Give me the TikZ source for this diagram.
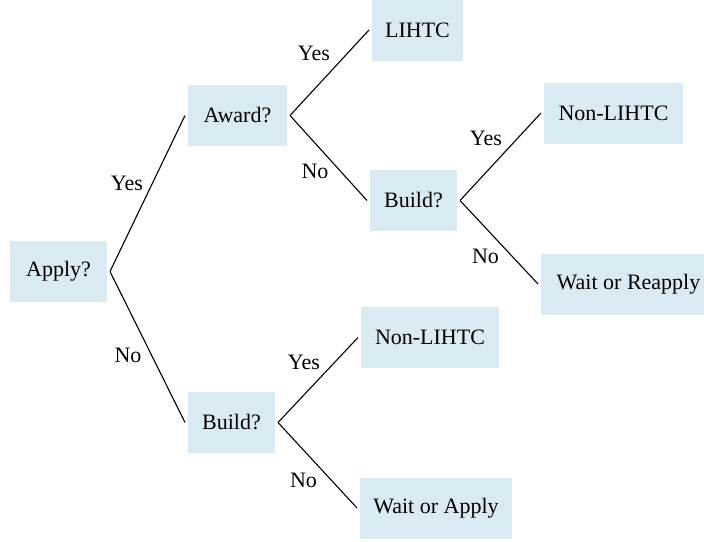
\documentclass[tikz,border=0pt]{standalone}
\usepackage{fontspec}
\setmainfont{Liberation Serif}
\definecolor{boxblue}{RGB}{217,234,242}
\begin{document}
\begin{tikzpicture}[x=1pt,y=-1pt,
  box/.style={fill=boxblue, inner sep=0pt, minimum height=61pt, outer sep=3pt,
              font=\fontsize{22}{26}\selectfont},
  lbl/.style={inner sep=0pt, font=\fontsize{22}{26}\selectfont},
  conn/.style={line width=1.1pt}]
\useasboundingbox (0,0) rectangle (704,541);
\clip (0,0) rectangle (704,541);
\node[box, minimum width=97pt]  (apply)  at (58.5,271.5) {Apply?};
\node[box, minimum width=99pt]  (award)  at (237.5,115.5) {Award?};
\node[box, minimum width=91pt]  (lihtc)  at (417.5,30) {LIHTC};
\node[box, minimum width=87pt]  (buildu) at (413.5,200.5) {Build?};
\node[box, minimum width=139pt] (nonlu)  at (613.5,113) {Non-LIHTC};
\node[box, minimum width=175pt] (waitr)  at (628.5,284) {Wait or Reapply};
\node[box, minimum width=87pt]  (buildl) at (231.5,422.5) {Build?};
\node[box, minimum width=138pt] (nonll)  at (430,337.5) {Non-LIHTC};
\node[box, minimum width=152pt] (waita)  at (436,508) {Wait or Apply};

\draw[conn] (apply.east) -- node[lbl, pos=.5, shift={(-20.5,-10)}] (l1) {Yes} (award.west);
\draw[conn] (apply.east) -- node[lbl, pos=.5, shift={(-19.5,8)}] (l2) {No} (buildl.west);
\draw[conn] (award.east) -- node[lbl, pos=.5, shift={(-15.5,-19.75)}] (l3) {Yes} (lihtc.west);
\draw[conn] (award.east) -- node[lbl, pos=.5, shift={(-13.5,13)}] (l4) {No} (buildu.west);
\draw[conn] (buildu.east) -- node[lbl, pos=.5, shift={(-14.5,-18.75)}] (l5) {Yes} (nonlu.west);
\draw[conn] (buildu.east) -- node[lbl, pos=.5, shift={(-13.5,14.25)}] (l6) {No} (waitr.west);
\draw[conn] (buildl.east) -- node[lbl, pos=.5, shift={(-14,-18)}] (l7) {Yes} (nonll.west);
\draw[conn] (buildl.east) -- node[lbl, pos=.5, shift={(-14,14.75)}] (l8) {No} (waita.west);
\end{tikzpicture}
\end{document}
